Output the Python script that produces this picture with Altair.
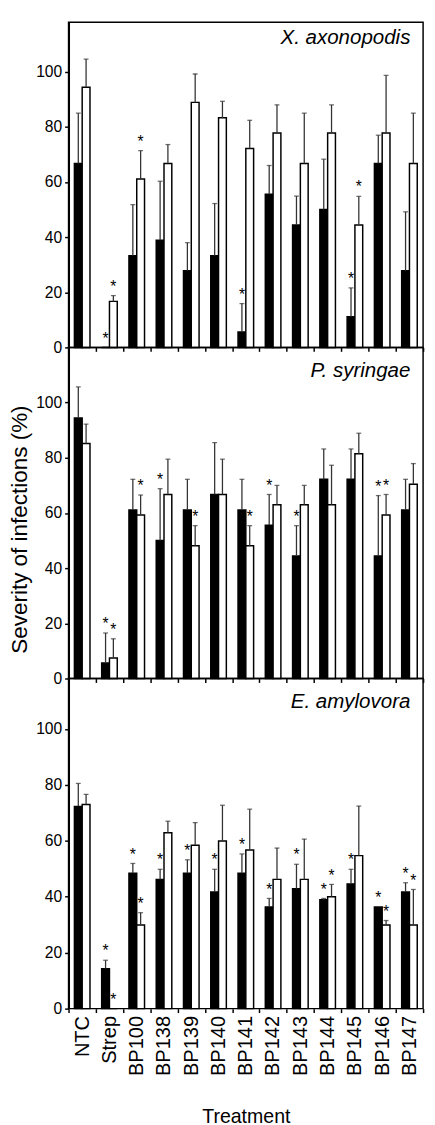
import altair as alt
import pandas as pd

treatments = ["NTC", "Strep", "BP100", "BP138", "BP139", "BP140", "BP141",
              "BP142", "BP143", "BP144", "BP145", "BP146", "BP147"]

# Panel 1: X. axonopodis
xa_black = [66.7, 0.0, 33.3, 38.9, 27.8, 33.3, 5.6, 55.6, 44.4, 50.0, 11.1, 66.7, 27.8]
xa_black_sd = [18.3, 0.0, 18.5, 21.4, 10.2, 18.9, 10.3, 10.4, 10.5, 18.3, 10.5, 10.3, 21.4]
xa_white = [94.4, 16.7, 61.1, 66.7, 88.9, 83.3, 72.2, 77.8, 66.7, 77.8, 44.4, 77.8, 66.7]
xa_white_sd = [10.2, 2.1, 10.3, 6.9, 10.3, 6.0, 10.2, 10.2, 18.3, 10.2, 10.4, 20.9, 18.3]
xa_black_star = [0, 1, 0, 0, 0, 0, 1, 0, 0, 0, 1, 0, 0]
xa_white_star = [0, 1, 1, 0, 0, 0, 0, 0, 0, 0, 1, 0, 0]

# Panel 2: P. syringae
ps_black = [94.4, 5.6, 61.1, 50.0, 61.1, 66.7, 61.1, 55.6, 44.4, 72.2, 72.2, 44.4, 61.1]
ps_black_sd = [11.3, 10.9, 11.1, 18.8, 11.1, 18.8, 11.1, 11.1, 11.0, 11.0, 11.0, 21.9, 11.1]
ps_white = [85.2, 7.4, 59.3, 66.7, 48.1, 66.7, 48.1, 63.0, 63.0, 63.0, 81.5, 59.3, 70.4]
ps_white_sd = [7.0, 7.0, 7.2, 12.8, 7.3, 12.8, 7.3, 7.0, 7.0, 14.3, 7.4, 7.4, 7.5]
ps_black_star = [0, 1, 0, 1, 0, 0, 0, 1, 1, 0, 0, 1, 0]
ps_white_star = [0, 1, 1, 0, 1, 0, 1, 0, 0, 0, 0, 1, 0]

# Panel 3: E. amylovora
ea_black = [72.3, 14.3, 48.4, 46.2, 48.4, 41.7, 48.4, 36.3, 42.9, 38.9, 44.6, 36.3, 41.7]
ea_black_sd = [8.2, 3.0, 3.5, 3.6, 4.8, 8.1, 6.9, 3.1, 8.7, 0.5, 5.2, 0.0, 3.3]
ea_white = [73.0, 0.0, 29.9, 62.9, 58.4, 59.9, 56.7, 46.2, 46.2, 40.0, 54.7, 29.9, 29.9]
ea_white_sd = [3.6, 0.0, 4.4, 4.1, 8.1, 12.8, 14.6, 11.2, 14.4, 4.4, 17.7, 1.6, 12.7]
ea_black_star = [0, 1, 1, 1, 1, 1, 1, 1, 1, 1, 1, 1, 1]
ea_white_star = [0, 1, 1, 0, 0, 0, 0, 0, 0, 1, 0, 1, 1]

panel_titles = ["X. axonopodis", "P. syringae", "E. amylovora"]
y_ticks = [0, 20, 40, 60, 80, 100]
y_title = "Severity of infections (%)"
x_title = "Treatment"

FONT = "Liberation Sans"
W = 363


def panel(title, bm, bs, wm, ws, bst, wst, height, ymax, last, show_ytitle, label_y):
    rows = []
    for i, t in enumerate(treatments):
        rows.append(dict(t=t, s="A", mean=bm[i], top=bm[i] + bs[i],
                         star="*" if bst[i] else ""))
        rows.append(dict(t=t, s="B", mean=wm[i], top=wm[i] + ws[i],
                         star="*" if wst[i] else ""))
    df = pd.DataFrame(rows)

    if last:
        xaxis = alt.Axis(title=x_title, labelAngle=-90, labelAlign="right",
                         labelBaseline="middle", labelFontSize=20.5, labelPadding=3,
                         titleFontSize=20, titleFontWeight="normal", titlePadding=32,
                         tickBand="extent", tickSize=4, tickColor="#000",
                         tickWidth=1.5, domain=False, labelColor="#000",
                         titleColor="#000")
    else:
        xaxis = alt.Axis(title=None, labels=False, tickBand="extent", tickSize=4,
                         tickColor="#000", tickWidth=1.5, domain=False)
    xenc = alt.X("t:N", sort=treatments, title=x_title if last else None,
                 scale=alt.Scale(paddingInner=0, paddingOuter=0), axis=xaxis)
    xoff = alt.XOffset("s:N", scale=alt.Scale(domain=["A", "B"], paddingInner=0,
                                              paddingOuter=0.75))
    yscale = alt.Scale(domain=[0, ymax], nice=False, zero=True)
    ykw = dict(values=y_ticks, tickSize=4, tickColor="#000", tickWidth=1.5,
               labelFontSize=16, labelPadding=3, labelColor="#000", domain=True,
               domainColor="#000", domainWidth=2, grid=False)
    if show_ytitle:
        yaxis = alt.Axis(title=y_title, titleFontSize=23, titleFontWeight="normal",
                         titleColor="#000", titlePadding=4, titleY=186, **ykw)
    else:
        yaxis = alt.Axis(title=None, **ykw)
    ytitle = y_title if show_ytitle else None

    def Y(field):
        return alt.Y(field, scale=yscale, axis=yaxis, title=ytitle)

    base = alt.Chart(df)
    bars = base.mark_bar(strokeWidth=1.5, stroke="#000").encode(
        x=xenc, xOffset=xoff, y=Y("mean:Q"),
        fill=alt.Fill("s:N", scale=alt.Scale(domain=["A", "B"],
                                             range=["#000000", "#ffffff"]),
                      legend=None),
    )
    errs = base.transform_filter("datum.top > datum.mean").mark_rule(
        color="#333333", strokeWidth=1.3).encode(
        x=xenc, xOffset=xoff, y=Y("mean:Q"), y2="top:Q")
    caps = base.transform_filter("datum.top > datum.mean").mark_tick(
        color="#333333", thickness=1.3, size=5).encode(
        x=xenc, xOffset=xoff, y=Y("top:Q"))
    stars = base.transform_filter("datum.star != ''").mark_text(
        font=FONT, fontSize=16, baseline="alphabetic", dy=-4, color="#000").encode(
        x=xenc, xOffset=xoff, y=Y("top:Q"), text="star:N")
    lab = alt.Chart(pd.DataFrame({"label": [title]})).mark_text(
        font=FONT, fontSize=21, fontStyle="italic", align="right",
        baseline="alphabetic", color="#000").encode(
        x=alt.value(350), y=alt.value(label_y), text="label:N")
    return alt.layer(bars, errs, caps, stars, lab).properties(width=W, height=height)


p1 = panel(panel_titles[0], xa_black, xa_black_sd, xa_white, xa_white_sd,
           xa_black_star, xa_white_star, 333, 118, False, False, 22)
p2 = panel(panel_titles[1], ps_black, ps_black_sd, ps_white, ps_white_sd,
           ps_black_star, ps_white_star, 339, 120, False, True, 30)
p3 = panel(panel_titles[2], ea_black, ea_black_sd, ea_white, ea_white_sd,
           ea_black_star, ea_white_star, 338, 118, True, False, 30)

chart = alt.vconcat(p1, p2, p3, spacing=0, bounds="flush").properties(
    padding={"left": 0, "top": 0, "right": 2, "bottom": 0}
).configure(font=FONT).configure_view(stroke="#000", strokeWidth=1.5)

chart.save("out.html", embed_options={"renderer": "svg", "actions": False})
